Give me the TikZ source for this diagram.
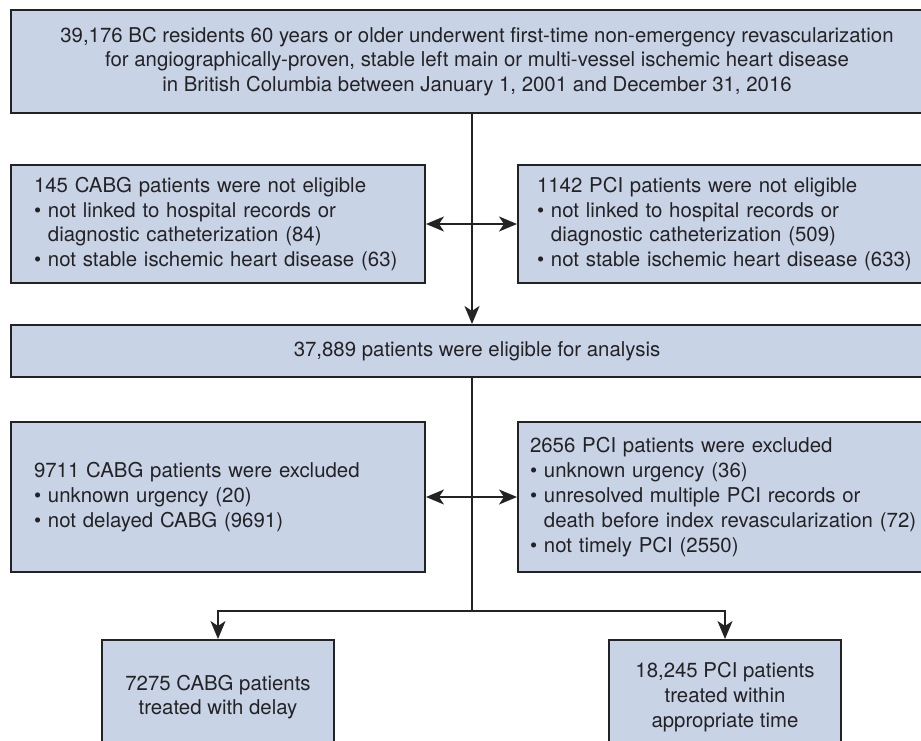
\documentclass[tikz,border=0pt]{standalone}
\usepackage{fontspec}
\setmainfont{TeX Gyre Heros}
\usetikzlibrary{arrows.meta}
\definecolor{boxfill}{RGB}{201,211,230}
\definecolor{boxline}{RGB}{35,35,38}
\newcommand{\bulletitem}{\textbullet\ }
\newcommand{\bulletgap}{\phantom{\textbullet\ }}
\begin{document}
\begin{tikzpicture}[x=0.5pt, y=-0.5pt,
    every node/.style={font=\fontsize{10.2}{12.4}\selectfont, text=boxline},
    box/.style={draw=boxline, line width=1pt, fill=boxfill, inner sep=0pt},
    flow/.style={draw=boxline, line width=1pt},
    tip/.style={-{Stealth[length=9pt, width=7.5pt, inset=2.5pt]}},
    dtip/.style={{Stealth[length=9pt, width=7.5pt, inset=2.5pt]}-{Stealth[length=9pt, width=7.5pt, inset=2.5pt]}}]

            \clip (0,0) rectangle (921,740);
            \useasboundingbox (0,0) rectangle (921,740);

            \coordinate (spine) at (472,0);
            \coordinate (split) at (472,611);

            \node[box, minimum width=466pt, minimum height=51.5pt, align=center] (cohort) at (477,61.5)
                {39,176 BC residents 60 years or older underwent first-time non-emergency revascularization\\
                 for angiographically-proven, stable left main or multi-vessel ischemic heart disease\\
                 in British Columbia between January 1, 2001 and December 31, 2016};

            \node[box, text width=184pt, inner xsep=11.5pt, minimum height=59pt, align=left] (cabgelig) at (218,224)
                {145 CABG patients were not eligible\\
                 \bulletitem not linked to hospital records or\\
                 \bulletgap diagnostic catheterization (84)\\
                 \bulletitem not stable ischemic heart disease (63)};
            \node[box, text width=189.5pt, inner xsep=9.5pt, minimum height=59pt, align=left] (pcielig) at (726.5,224)
                {1142 PCI patients were not eligible\\
                 \bulletitem not linked to hospital records or\\
                 \bulletgap diagnostic catheterization (509)\\
                 \bulletitem not stable ischemic heart disease (633)};

            \node[box, minimum width=466pt, minimum height=26pt, align=center] (elig) at (477,351)
                {37,889 patients were eligible for analysis};

            \node[box, text width=184pt, inner xsep=11.5pt, minimum height=75pt, align=left] (cabgexcl) at (218,497)
                {9711 CABG patients were excluded\\
                 \bulletitem unknown urgency (20)\\
                 \bulletitem not delayed CABG (9691)};
            \node[box, text width=196.5pt, inner xsep=6pt, minimum height=75pt, align=left] (pciexcl) at (726.5,497)
                {2656 PCI patients were excluded\\
                 \bulletitem unknown urgency (36)\\
                 \bulletitem unresolved multiple PCI records or\\
                 \bulletgap death before index revascularization (72)\\
                 \bulletitem not timely PCI (2550)};

            \node[box, minimum width=116pt, minimum height=57pt, align=center] (cabgout) at (218,697)
                {7275 CABG patients\\ treated with delay};
            \node[box, minimum width=116pt, minimum height=57pt, align=center] (pciout) at (725,697)
                {18,245 PCI patients\\ treated within\\ appropriate time};

            \draw[flow, tip] (cohort.south -| spine) -- (elig.north -| spine);
            \draw[flow, dtip] (cabgelig.east) -- (pcielig.west);
            \draw[flow] (elig.south -| spine) -- (split);
            \draw[flow, dtip] (cabgexcl.east) -- (pciexcl.west);
            \draw[flow, tip] (split) -| (cabgout.north);
            \draw[flow, tip] (split) -| (pciout.north);

        \end{tikzpicture}
\end{document}
